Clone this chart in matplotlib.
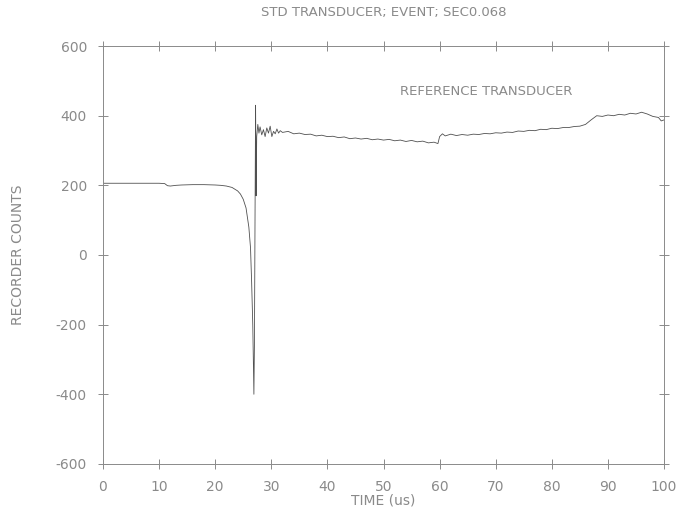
import matplotlib
matplotlib.use("Agg")
import matplotlib.pyplot as plt

# time (us) and recorder counts
time_us = [0, 2, 4, 6, 8, 10, 11, 11.5, 12, 13, 14, 16, 18, 20, 21, 22,
           23, 24, 24.5, 25, 25.5, 26, 26.3, 26.5, 26.7, 26.8, 26.9, 27.0, 27.1,
           27.2, 27.25, 27.3, 27.4, 27.6, 27.8, 28, 28.3, 28.6, 28.9, 29.2, 29.5,
           29.8, 30.1, 30.4, 30.7, 31, 31.3, 31.6, 32, 33, 34, 35, 36, 37, 38, 39,
           40, 41, 42, 43, 44, 45, 46, 47, 48, 49, 50, 51, 52, 53, 54, 55, 56, 57,
           58, 59, 59.7, 60, 60.5, 61, 62, 63, 64, 65, 66, 67, 68, 69, 70, 71, 72,
           73, 74, 75, 76, 77, 78, 79, 80, 81, 82, 83, 84, 85, 86, 87, 88, 89, 90,
           91, 92, 93, 94, 95, 96, 97, 98, 99, 99.5, 100]
counts = [206, 206, 206, 206, 206, 206, 205, 199, 198, 200, 201, 202, 202, 201, 200, 198,
          194, 184, 175, 160, 135, 80, 20, -80, -200, -300, -400, -250, 100,
          430, 300, 170, 340, 375, 350, 368, 345, 360, 340, 365, 350,
          370, 340, 355, 348, 362, 350, 357, 352, 355, 348, 350, 346, 347, 342, 344,
          340, 341, 337, 339, 334, 336, 333, 335, 331, 333, 330, 332, 328, 330, 326, 329, 325, 327,
          322, 324, 320, 340, 348, 342, 347, 343, 346, 344, 347, 346, 349, 348, 351, 350, 353,
          352, 356, 355, 358, 357, 361, 360, 364, 363, 366, 366, 369, 370, 375, 388, 400, 398, 402,
          400, 404, 402, 407, 405, 410, 405, 398, 395, 385, 388]

x_ticks = [0, 10, 20, 30, 40, 50, 60, 70, 80, 90, 100]
y_ticks = [-600, -400, -200, 0, 200, 400, 600]

txt = "#8a8a8a"
fig = plt.figure(figsize=(6.91, 5.12), dpi=100)
ax = fig.add_axes([0.149, 0.094, 0.812, 0.816])

ax.plot(time_us, counts, color="#505050", linewidth=0.6)

ax.set_xlim(0, 100)
ax.set_ylim(-600, 600)
ax.set_xticks(x_ticks)
ax.set_yticks(y_ticks)
ax.set_yticklabels([str(v) for v in y_ticks])

for s in ax.spines.values():
    s.set_color("#8a8a8a")
    s.set_linewidth(0.7)
ax.tick_params(direction="inout", length=7, width=0.7, color="#8a8a8a",
               labelcolor=txt, labelsize=10, top=True, right=True)
ax.tick_params(axis="x", pad=8)
ax.tick_params(axis="y", pad=8)

ax.set_title("STD TRANSDUCER; EVENT; SEC0.068", fontsize=9.5, color=txt, pad=22)
ax.set_xlabel("TIME (us)", fontsize=10, color=txt, labelpad=0)
ax.set_ylabel("RECORDER COUNTS", fontsize=10, color=txt, labelpad=22)
ax.text(53, 470, "REFERENCE TRANSDUCER", fontsize=9.5, color=txt, va="center")

fig.savefig("out.png", dpi=100)
